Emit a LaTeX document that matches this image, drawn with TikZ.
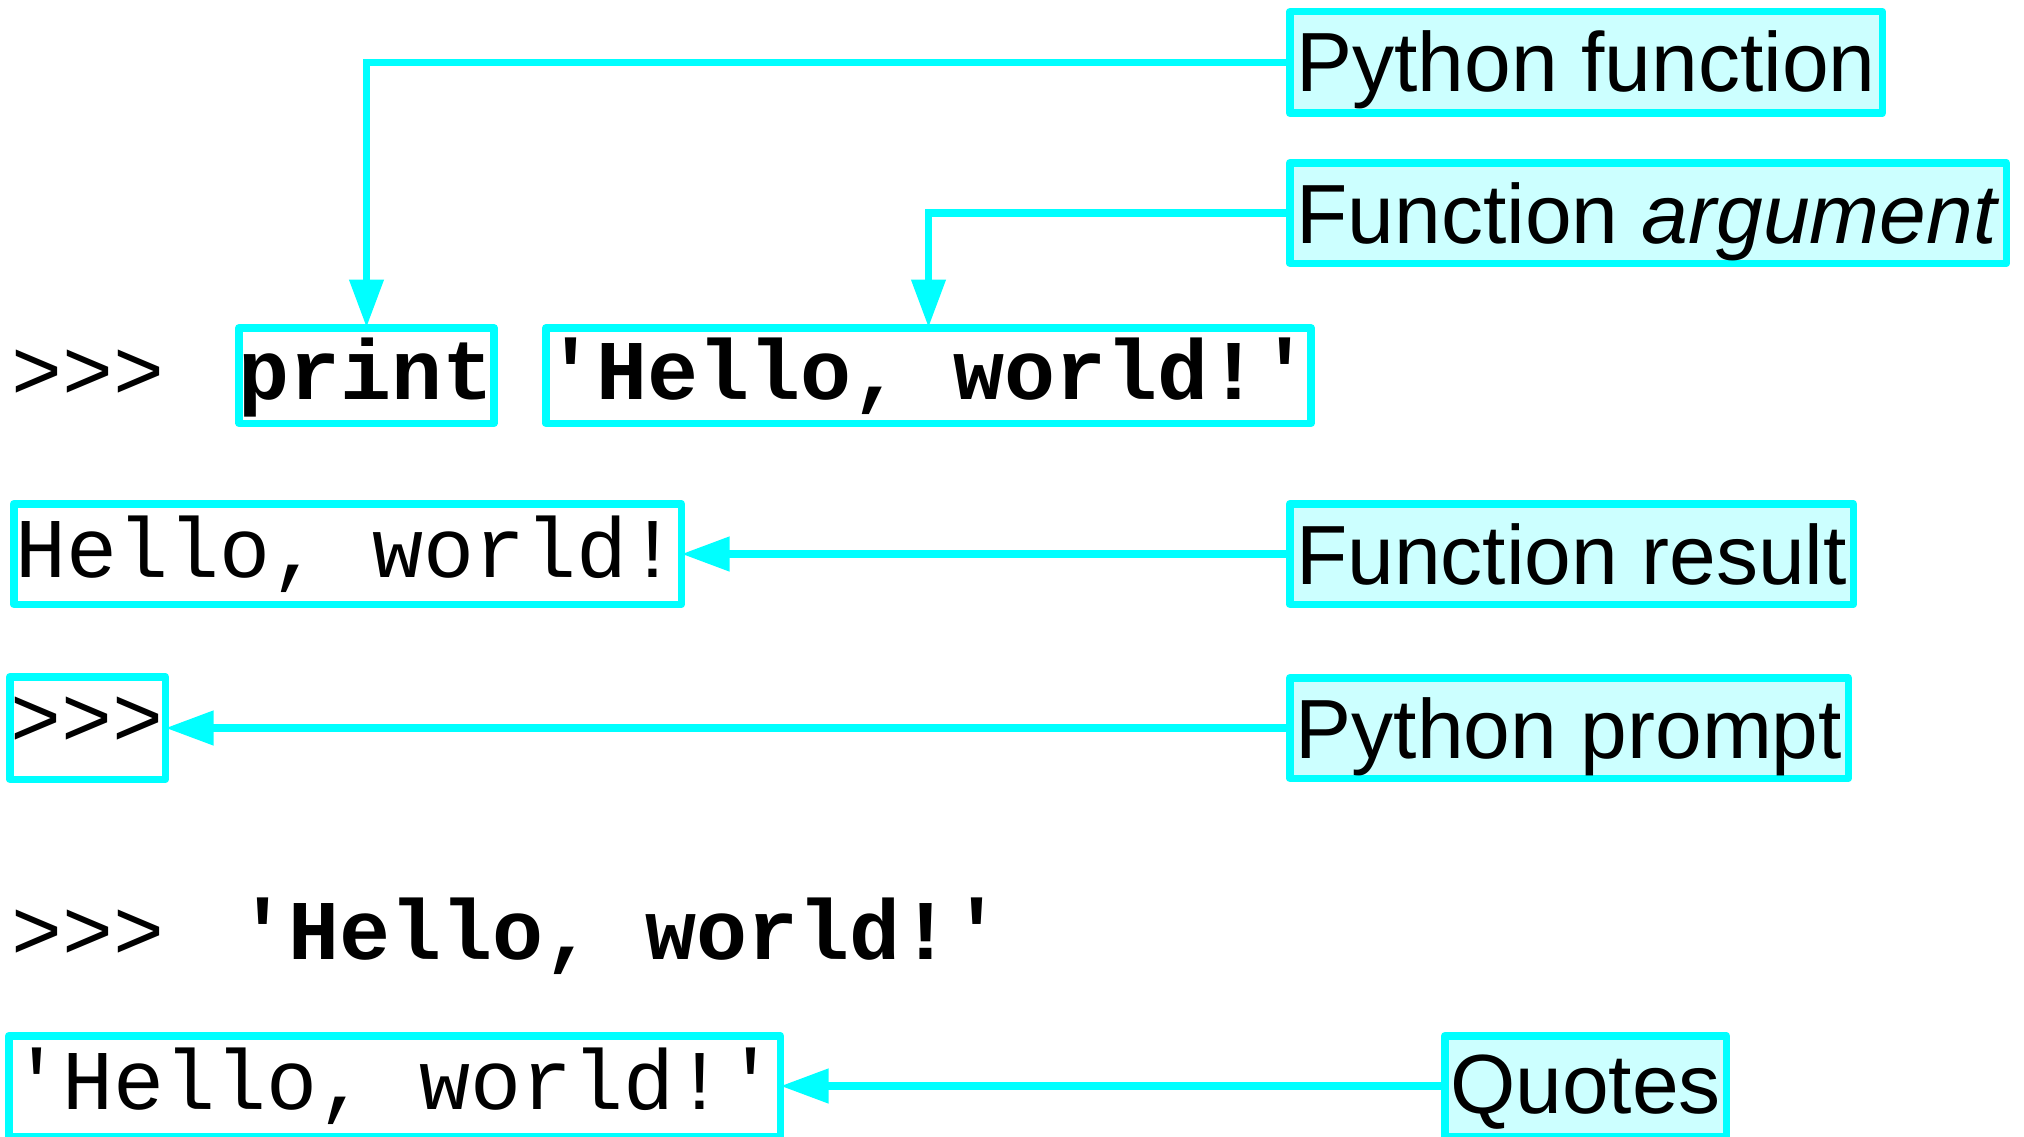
\documentclass[tikz,border=0pt]{standalone}
\usepackage{fontspec}
\setmainfont{Liberation Sans}
\newfontfamily\monof{Liberation Mono}
\usetikzlibrary{arrows.meta}
\definecolor{cyanline}{HTML}{00FFFF}
\definecolor{cyanfill}{HTML}{CCFFFF}
\begin{document}
\begin{tikzpicture}[x=1pt,y=-1pt,
  lbl/.style={draw=cyanline, fill=cyanfill, line width=7.5pt, line join=round, inner sep=0pt,
    font=\fontsize{84}{100}\selectfont, text depth=0pt},
  codebox/.style={draw=cyanline, line width=7.5pt, line join=round, inner sep=0pt,
    font=\monof\fontsize{85}{100}\selectfont, text depth=0pt},
  code/.style={inner sep=0pt, font=\monof\fontsize{85}{100}\selectfont, anchor=base west},
  arr/.style={draw=cyanline, line width=7.5pt, shorten >=-3.5pt,
    -{Triangle[length=48pt,width=33pt]}}]
\clip (0,0) rectangle (2024,1137);
\fill[white] (0,0) rectangle (2024,1137);

% labels
\node[lbl, minimum width=592.5pt, minimum height=101.5pt, text height=59pt] (pyfunc) at (1586,62.5) {Python function};
\node[lbl, minimum width=716.5pt, minimum height=100.5pt, text height=60pt] (funcarg) at (1648,213) {Function \textit{argument}};
\node[lbl, minimum width=563.5pt, minimum height=100.5pt, text height=60pt] (funcres) at (1571.5,554) {Function result};
\node[lbl, minimum width=558.5pt, minimum height=100.5pt, text height=60pt] (pyprompt) at (1569,728) {Python prompt};
\node[lbl, minimum width=281.5pt, minimum height=100.5pt, text height=54pt] (quotes) at (1585.5,1086) {Quotes};

% code line 1
\node[code] (prompt1) at (11,399) {>>>};
\node[codebox, minimum width=253.5pt, minimum height=95.5pt, text height=47pt] (print) at (366.5,375.5) {\bfseries print};
\node[codebox, minimum width=763.5pt, minimum height=95.5pt, text height=47pt] (argbox) at (928.5,375.5) {\bfseries 'Hello, world!'};

% output
\node[codebox, minimum width=667.5pt, minimum height=100.5pt, text height=46pt] (result) at (347.5,554) {Hello, world!};
\node[codebox, minimum width=155.5pt, minimum height=102.5pt, text height=36pt] (promptbox) at (87.5,728) {>>>};

% code line 2
\node[code] (prompt2) at (11,959) {>>>};
\node[code] (strlit) at (237,959) {\bfseries 'Hello, world!'};

% output 2
\node[codebox, minimum width=771.5pt, minimum height=100.5pt, text height=46pt] (qres) at (394.5,1086) {'Hello, world!'};

% connectors
\draw[arr] (pyfunc.west) -| (print.north);
\draw[arr] (funcarg.west) -| (argbox.north);
\draw[arr] (funcres.west) -- (result.east);
\draw[arr] (pyprompt.west) -- (promptbox.east);
\draw[arr] (quotes.west) -- (qres.east);
\end{tikzpicture}
\end{document}
